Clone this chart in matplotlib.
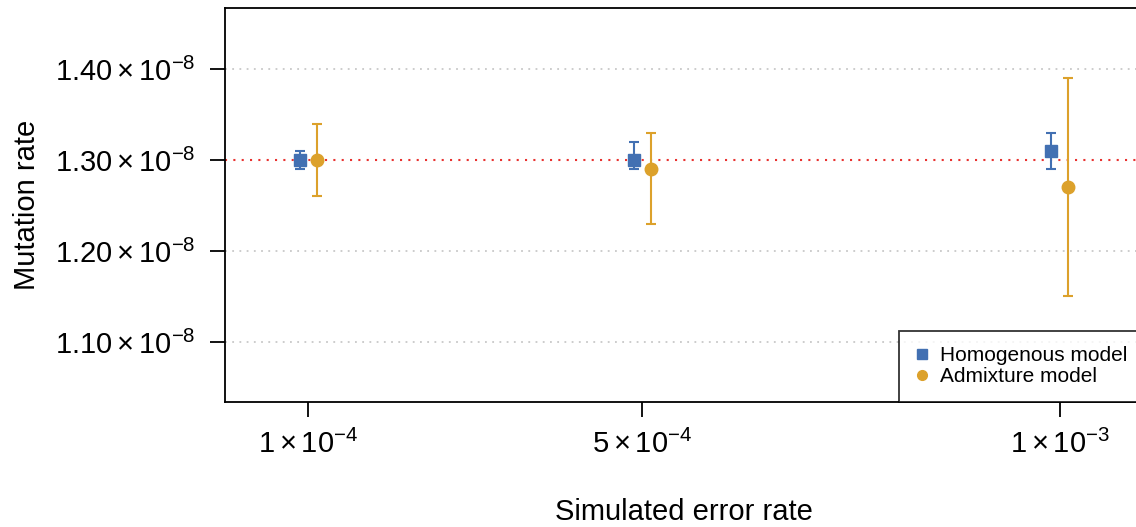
import matplotlib
matplotlib.use("Agg")
import matplotlib.pyplot as plt
import numpy as np
from matplotlib.lines import Line2D

plt.rcParams['font.family'] = ['Liberation Sans', 'DejaVu Sans']
plt.rcParams['mathtext.fontset'] = 'custom'
plt.rcParams['mathtext.rm'] = 'Liberation Sans'
plt.rcParams['mathtext.it'] = 'Liberation Sans:italic'
plt.rcParams['mathtext.bf'] = 'Liberation Sans:bold'

error_rates = [1e-4, 5e-4, 1e-3]
x_labels = [r"$1\times10^{-4}$", r"$5\times10^{-4}$", r"$1\times10^{-3}$"]

homog_mean = [1.30e-8, 1.30e-8, 1.31e-8]
homog_low = [1.29e-8, 1.29e-8, 1.29e-8]
homog_high = [1.31e-8, 1.32e-8, 1.33e-8]

admix_mean = [1.30e-8, 1.29e-8, 1.27e-8]
admix_low = [1.26e-8, 1.23e-8, 1.15e-8]
admix_high = [1.34e-8, 1.33e-8, 1.39e-8]

true_rate = 1.30e-8
y_ticks = [1.10e-8, 1.20e-8, 1.30e-8, 1.40e-8]
y_labels = [r"$1.10\times10^{-8}$", r"$1.20\times10^{-8}$",
            r"$1.30\times10^{-8}$", r"$1.40\times10^{-8}$"]
series_labels = ["Homogenous model", "Admixture model"]

blue = "#4270b2"
orange = "#dca12b"

W, H = 1136, 527
fig = plt.figure(figsize=(W / 100, H / 100), dpi=100)
left, right, top, bottom = 225, 1143, 8, 402
ax = fig.add_axes([left / W, 1 - bottom / H, (right - left) / W, (bottom - top) / H])

x = np.array(error_rates)
dx = 1.0e-5

for yv in [1.10e-8, 1.20e-8, 1.40e-8]:
    ax.axhline(yv, color="#c8c8c8", lw=1.3, ls=(0, (1, 3)), zorder=1)
ax.axhline(true_rate, color="#e8312f", lw=1.5, ls=(0, (1, 3)), zorder=1)

hm = np.array(homog_mean)
ax.errorbar(x - dx, hm, yerr=[hm - np.array(homog_low), np.array(homog_high) - hm],
            fmt='s', color=blue, ms=9, elinewidth=1.5, capsize=3.5, capthick=1.5,
            zorder=3)
am = np.array(admix_mean)
ax.errorbar(x + dx, am, yerr=[am - np.array(admix_low), np.array(admix_high) - am],
            fmt='o', color=orange, ms=9, elinewidth=1.5, capsize=3.5, capthick=1.5,
            zorder=3)

ax.set_xlim(0, 1.1e-3)
ax.set_ylim(1.034e-8, 1.467e-8)
ax.set_xticks(error_rates)
ax.set_xticklabels(x_labels)
ax.set_yticks(y_ticks)
ax.set_yticklabels(y_labels)
ax.tick_params(axis='both', labelsize=21, length=11, width=1.3, direction='out')
ax.tick_params(axis='y', pad=10)
ax.tick_params(axis='x', pad=9)
for s in ax.spines.values():
    s.set_linewidth(1.3)

ax.set_xlabel("Simulated error rate", fontsize=21, labelpad=28)
ax.set_ylabel("Mutation rate", fontsize=21, labelpad=10)

h2 = [Line2D([], [], marker='s', color=blue, ls='none', ms=7),
      Line2D([], [], marker='o', color=orange, ls='none', ms=7)]
leg = ax.legend(h2, series_labels, loc='lower right', bbox_to_anchor=(1, 0), borderaxespad=0,
                fontsize=15, frameon=True, fancybox=False, edgecolor='black',
                handlelength=0.7, handletextpad=0.5, labelspacing=0.1,
                borderpad=0.75)
leg.get_frame().set_linewidth(1.3)

fig.savefig("out.png", dpi=100)
